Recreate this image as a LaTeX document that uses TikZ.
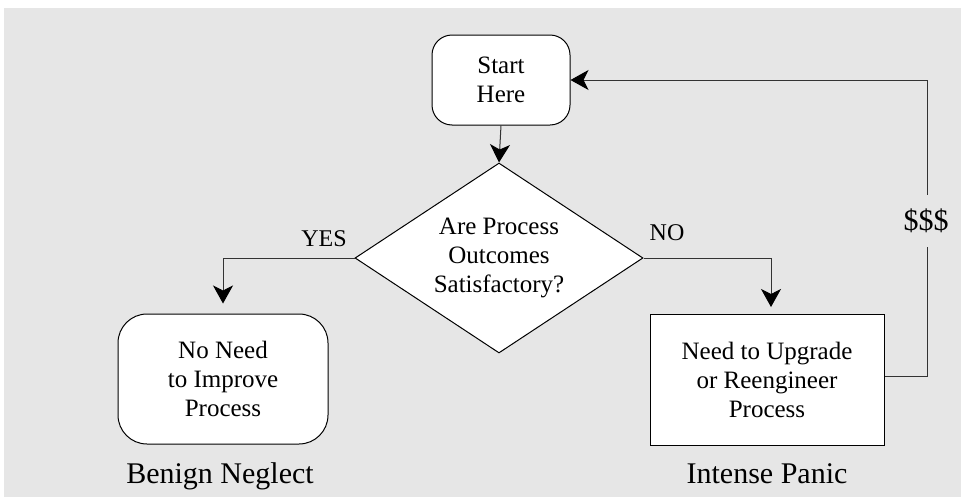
\documentclass[tikz,border=0pt]{standalone}
\usepackage{fontspec}
\setmainfont{Liberation Serif}
\usetikzlibrary{arrows.meta,shapes.geometric,calc}
\definecolor{bggray}{HTML}{E6E6E6}
\definecolor{linegray}{HTML}{333333}
\begin{document}
\begin{tikzpicture}[x=1pt,y=-1pt,
  boxtext/.style={font=\fontsize{25}{29}\selectfont, align=center, text=black},
  shapebox/.style={draw=black, fill=white, line width=1pt, boxtext, inner sep=0pt},
  conn/.style={draw=linegray, line width=1pt, -{Stealth[length=18pt,width=20pt,inset=5pt,color=black]}},
  lbl/.style={font=\fontsize{24}{28}\selectfont, text=black},
  biglbl/.style={font=\fontsize{30}{34}\selectfont, text=black}
]
\useasboundingbox (0,0) rectangle (961,498);
\fill[bggray] (4,8) rectangle (961,497);

\node[shapebox, rounded corners=20pt, minimum width=138pt, minimum height=90pt] (start) at (501,80) {Start\\Here};
\node[shapebox, diamond, shape aspect=1.516, minimum width=288pt, minimum height=190pt] (dec) at (499,258) {Are Process\\Outcomes\\Satisfactory?};
\node[shapebox, rounded corners=29pt, minimum width=210pt, minimum height=130pt] (noneed) at (223,379) {No Need\\to Improve\\Process};
\node[shapebox, minimum width=234pt, minimum height=131pt] (upg) at (767,380) {Need to Upgrade\\or Reengineer\\Process};

\draw[conn] (start.south) -- (dec.north);
\draw[conn, shorten >=10pt] (dec.west) -| (noneed.north);
\draw[conn, shorten >=7pt] (dec.east) -| ($(upg.north)+(4,0)$);
\draw[conn] ($(upg.east)+(0,-3.5)$) -- ++(43.3,0) coordinate (fbcorner) |- (start.east);

\node[biglbl, fill=bggray, inner sep=0pt, minimum height=52pt] (cost) at (926,221) {\$\$\$};
\node[lbl, anchor=base] (yes) at (324,246) {YES};
\node[lbl, anchor=base] (nolbl) at (667,240) {NO};
\node[biglbl, anchor=base] (benign) at (220,483) {Benign Neglect};
\node[biglbl, anchor=base] (panic) at (767,483) {Intense Panic};
\end{tikzpicture}
\end{document}
